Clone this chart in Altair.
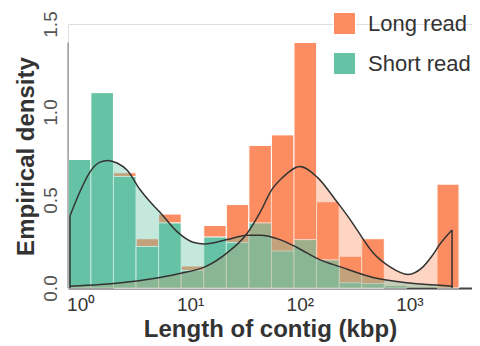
import altair as alt
import pandas as pd

series_names = ["Long read", "Short read"]
series_colors = ["#FC8D62", "#66C2A5"]

# histogram bins (kbp), equal width in log space
bin_start = [0.772, 1.241, 1.993, 3.203, 5.147, 8.27, 13.29, 21.35, 34.3, 55.1,
             88.5, 142.2, 228.5, 367.1, 589.8, 948.0, 1786.0]
bin_end = [1.241, 1.993, 3.203, 5.147, 8.27, 13.29, 21.35, 34.3, 55.1, 88.5,
           142.2, 228.5, 367.1, 589.8, 948.0, 1523.0, 2834.0]

long_density = [0.0, 0.0, 0.655, 0.28, 0.42, 0.125, 0.355, 0.474, 0.81, 0.87,
                1.395, 0.49, 0.18, 0.28, 0.0, 0.0, 0.59]
short_density = [0.73, 1.11, 0.634, 0.236, 0.37, 0.10, 0.29, 0.258, 0.37, 0.21,
                 0.275, 0.16, 0.03, 0.025, 0.015, 0.0, 0.0]

# kernel density curves
long_kde_x = [0.80, 1.50, 3.27, 5.30, 8.41, 13.6, 21.7, 33.0, 43.4, 55.7, 70.3,
              100.0, 144.0, 218.0, 287.0, 333.0, 466.0, 665.0, 971.0, 1330.0,
              1600.0, 1901.0, 2449.0]
long_kde_y = [0.01, 0.02, 0.04, 0.06, 0.085, 0.12, 0.20, 0.31, 0.43, 0.56, 0.63,
              0.69, 0.63, 0.49, 0.39, 0.33, 0.20, 0.12, 0.077, 0.12,
              0.18, 0.25, 0.33]
short_kde_x = [0.80, 0.99, 1.22, 1.50, 1.78, 2.15, 2.65, 3.48, 4.30, 5.30, 7.58,
               10.6, 13.6, 21.7, 33.0, 43.4, 65.9, 94.3, 153.0, 235.0, 466.0,
               951.0, 1901.0, 2449.0]
short_kde_y = [0.41, 0.55, 0.66, 0.715, 0.725, 0.71, 0.67, 0.56, 0.49, 0.43, 0.32,
               0.26, 0.25, 0.275, 0.30, 0.30, 0.275, 0.23, 0.16, 0.12, 0.06,
               0.03, 0.015, 0.01]

x_ticks = [1, 10, 100, 1000]
x_tick_labels = ["10\u2070", "10\u00b9", "10\u00b2", "10\u00b3"]
y_ticks = [0.0, 0.5, 1.0, 1.5]
x_domain = [0.767, 3724]
y_domain = [0, 1.5]

FONT = "Liberation Sans"
x_title = "Length of contig (kbp)"
y_title = "Empirical density"

label_expr = " : ".join(
    f"datum.value == {v} ? '{t}'" for v, t in zip(x_ticks[:-1], x_tick_labels[:-1])
) + f" : '{x_tick_labels[-1]}'"

x_scale = alt.Scale(type="log", domain=x_domain, nice=False)
y_scale = alt.Scale(domain=y_domain, nice=False, zero=True)

x_axis = alt.Axis(values=x_ticks, labelExpr=label_expr, labelFontSize=19,
                  labelColor="#333", labelPadding=7, ticks=False, domain=True,
                  domainColor="#444", domainWidth=2, grid=False, labelFlush=False,
                  labelOverlap=False, titleFontSize=24, titleFontWeight="bold",
                  titleColor="#333", titlePadding=3, labelFont=FONT, titleFont=FONT)
y_axis = alt.Axis(values=y_ticks, format=".1f", labelAngle=-90, labelAlign="center",
                  labelBaseline="bottom", labelPadding=8, labelFontSize=19,
                  labelColor="#555", ticks=False, domain=False, grid=False,
                  labelFlush=False, labelOverlap=False, titleFontSize=24,
                  titleFontWeight="bold", titleColor="#333", titlePadding=3,
                  labelFont=FONT, titleFont=FONT)


def X(field):
    return alt.X(f"{field}:Q", scale=x_scale, axis=x_axis, title=x_title)


def Y(field):
    return alt.Y(f"{field}:Q", scale=y_scale, axis=y_axis, title=y_title)


bars = pd.DataFrame({
    "lo": bin_start * 2,
    "hi": bin_end * 2,
    "h": long_density + short_density,
    "base": [0.0] * (2 * len(bin_start)),
    "series": [series_names[0]] * len(bin_start) + [series_names[1]] * len(bin_start),
})
bars = bars[bars["h"] > 0]

color = alt.Color("series:N", scale=alt.Scale(domain=series_names, range=series_colors),
                  title=None,
                  legend=alt.Legend(orient="none", legendX=265, legendY=-12,
                                    symbolType="square", symbolSize=484,
                                    symbolStrokeColor="white", symbolStrokeWidth=1,
                                    symbolOpacity=1, labelFontSize=22, labelFont=FONT,
                                    labelColor="#333", labelOffset=12, rowPadding=13,
                                    padding=0))

long_bars = alt.Chart(bars[bars["series"] == series_names[0]]).mark_rect(
    stroke="white", strokeWidth=1).encode(x=X("lo"), x2="hi:Q", y=Y("h"), y2="base:Q", color=color)
short_bars = alt.Chart(bars[bars["series"] == series_names[1]]).mark_rect(
    stroke="white", strokeWidth=1).encode(x=X("lo"), x2="hi:Q", y=Y("h"), y2="base:Q", color=color)

long_kde = pd.DataFrame({"x": long_kde_x, "y": long_kde_y})
short_kde = pd.DataFrame({"x": short_kde_x, "y": short_kde_y})

long_fill = alt.Chart(long_kde).mark_area(color=series_colors[0], opacity=0.38,
                                           interpolate="monotone").encode(x=X("x"), y=Y("y"))
short_fill = alt.Chart(short_kde).mark_area(color=series_colors[1], opacity=0.38,
                                             interpolate="monotone").encode(x=X("x"), y=Y("y"))
long_line = alt.Chart(long_kde).mark_line(color="#333", strokeWidth=1.5,
                                          interpolate="monotone").encode(x=X("x"), y=Y("y"))
short_line = alt.Chart(short_kde).mark_line(color="#333", strokeWidth=1.5,
                                            interpolate="monotone").encode(x=X("x"), y=Y("y"))

ends = pd.DataFrame({
    "x": [long_kde_x[-1], short_kde_x[0]],
    "y": [long_kde_y[-1], short_kde_y[0]],
    "base": [0.0, 0.0],
})
end_rules = alt.Chart(ends).mark_rule(color="#333", strokeWidth=1.5).encode(
    x=X("x"), y=Y("y"), y2="base:Q")

spine_df = pd.DataFrame({"base": [0.0], "top": [max(long_density + short_density)]})
spine = alt.Chart(spine_df).mark_rule(color="#777", strokeWidth=1).encode(
    x=alt.value(0), y=Y("base"), y2="top:Q")

chart = alt.layer(long_bars, short_bars, long_fill, short_fill, long_line, short_line,
                  end_rules, spine).properties(
    width=404, height=264,
    autosize=alt.AutoSizeParams(type="none"),
    padding={"left": 60, "top": 16, "right": 0, "bottom": 58},
).configure_view(stroke=None).configure(font=FONT)

chart.save("out.html", embed_options={"renderer": "svg", "actions": False})
